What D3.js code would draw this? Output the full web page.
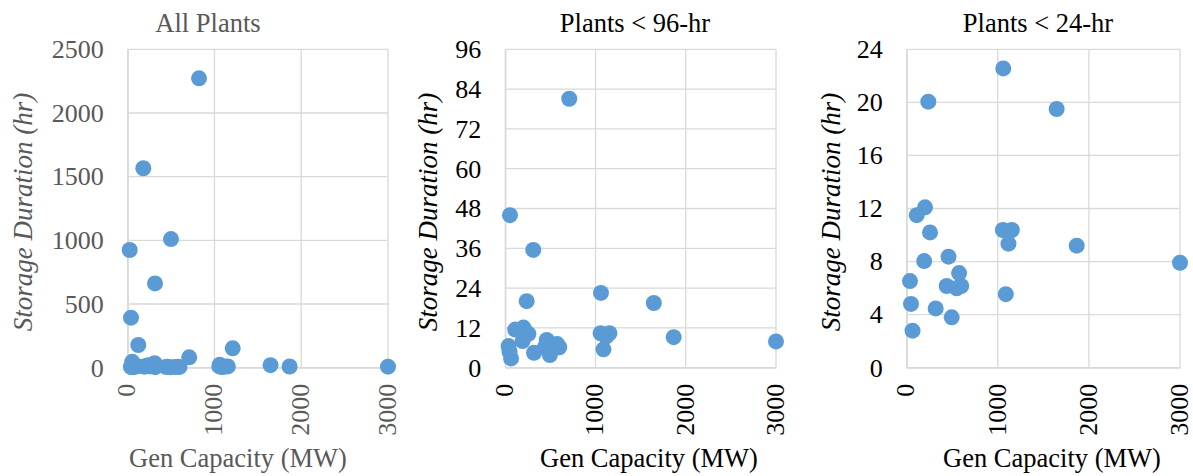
<!DOCTYPE html>
<html>
<head>
<meta charset="utf-8">
<script src="https://cdn.jsdelivr.net/npm/d3@7"></script>
<style>
  html, body { margin: 0; padding: 0; background: #fff; }
  svg { display: block; }
  text { font-family: "Liberation Serif", "Times New Roman", serif; }
</style>
</head>
<body>
<svg id="chart" width="1193" height="476"></svg>
<script>
// ---- data ----
const genCapacity = [
  1060, 237, 1646, 201, 110, 256, 1056, 1154, 1117, 1866, 3000, 459, 192, 575,
  36, 439, 549, 598, 1088, 47, 318, 494, 64,
  709, 52, 310,
  822, 180, 499, 23, 315, 38, 122, 1210
];
const storageDuration = [
  22.56, 20.05, 19.5, 12.09, 11.5, 10.2, 10.38, 10.38, 9.35, 9.2, 7.91, 8.37, 8.04, 7.13,
  6.53, 6.16, 5.98, 6.16, 5.54, 4.81, 4.47, 3.8, 2.79,
  81.1, 46.0, 35.5,
  2272, 1566, 1010, 924, 662, 393, 178, 152
];
const panelTitles = ["All Plants", "Plants < 96-hr", "Plants < 24-hr"];
const durationLimits = [Infinity, 96, 24];
const yAxisMax = [2500, 96, 24];
const yAxisStep = [500, 12, 4];
const xTickValues = [0, 1000, 2000, 3000];
const xAxisTitle = "Gen Capacity (MW)";
const yAxisTitle = "Storage Duration (hr)";

// ---- layout / style ----
const layout = [
  { left: 127.7, right: 388, titleX: 208, yTitleX: 32, xTitleX: 238, color: "#595959" },
  { left: 505.3, right: 776, titleX: 635, yTitleX: 437, xTitleX: 649, color: "#000000" },
  { left: 906.7, right: 1180, titleX: 1038, yTitleX: 840, xTitleX: 1052, color: "#000000" }
];
const plotTop = 49.3, plotBottom = 367.7;
const gridColor = "#d9d9d9";
const dotColor = "#5B9BD5";
const tickFont = 26, titleFont = 26.5, yTitleFont = 27;

const svg = d3.select("#chart");
svg.append("rect").attr("width", 1193).attr("height", 476).attr("fill", "#fff");

const points = genCapacity.map((c, i) => ({ cap: c, dur: storageDuration[i] }));

panelTitles.forEach((title, p) => {
  const L = layout[p];
  const x = d3.scaleLinear().domain([0, 3000]).range([L.left, L.right]);
  const y = d3.scaleLinear().domain([0, yAxisMax[p]]).range([plotBottom, plotTop]);
  const yTicks = d3.range(0, yAxisMax[p] + yAxisStep[p] / 2, yAxisStep[p]);
  const g = svg.append("g");

  // gridlines
  g.append("g").selectAll("line").data(yTicks).join("line")
    .attr("x1", L.left).attr("x2", L.right)
    .attr("y1", d => y(d)).attr("y2", d => y(d))
    .attr("stroke", gridColor).attr("stroke-width", 1.3);
  g.append("g").selectAll("line").data(xTickValues).join("line")
    .attr("x1", d => x(d)).attr("x2", d => x(d))
    .attr("y1", plotTop).attr("y2", plotBottom)
    .attr("stroke", gridColor).attr("stroke-width", 1.3);

  // y axis
  const yAxis = g.append("g")
    .attr("transform", `translate(${L.left},0)`)
    .call(d3.axisLeft(y).tickValues(yTicks).tickSize(0).tickPadding(24).tickFormat(d3.format("d")));
  yAxis.attr("font-family", null);
  yAxis.select(".domain").attr("stroke", gridColor).attr("stroke-width", 1.3);
  yAxis.selectAll("text")
    .attr("font-size", tickFont).attr("fill", L.color);

  // x axis (rotated labels)
  const xAxis = g.append("g")
    .attr("transform", `translate(0,${plotBottom})`)
    .call(d3.axisBottom(x).tickValues(xTickValues).tickSize(0).tickFormat(d3.format("d")));
  xAxis.attr("font-family", null);
  xAxis.select(".domain").attr("stroke", gridColor).attr("stroke-width", 1.3);
  xAxis.selectAll("text")
    .attr("font-size", tickFont).attr("fill", L.color)
    .attr("text-anchor", "end")
    .attr("transform", "translate(0,16) rotate(-90)")
    .attr("x", 0).attr("y", 0).attr("dy", "0.28em");

  // points
  g.append("g").selectAll("circle")
    .data(points.filter(d => d.dur < durationLimits[p]))
    .join("circle")
    .attr("cx", d => x(d.cap))
    .attr("cy", d => y(d.dur))
    .attr("r", 8)
    .attr("fill", dotColor);

  // title
  g.append("text")
    .attr("x", L.titleX).attr("y", 32)
    .attr("text-anchor", "middle")
    .attr("font-size", titleFont).attr("fill", L.color)
    .text(title);

  // x axis title
  g.append("text")
    .attr("x", L.xTitleX).attr("y", 467)
    .attr("text-anchor", "middle")
    .attr("font-size", titleFont).attr("fill", L.color)
    .text(xAxisTitle);

  // y axis title
  g.append("text")
    .attr("transform", `translate(${L.yTitleX},212) rotate(-90)`)
    .attr("text-anchor", "middle")
    .attr("font-size", yTitleFont).attr("font-style", "italic").attr("fill", L.color)
    .text(yAxisTitle);
});
</script>
</body>
</html>
